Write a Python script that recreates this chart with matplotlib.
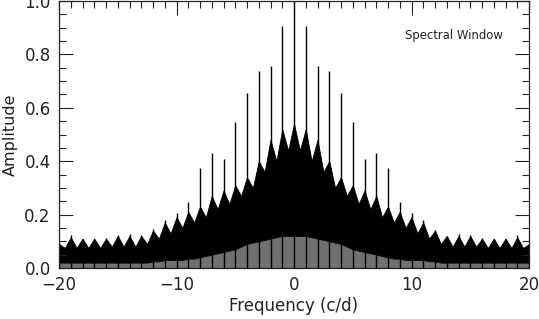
import matplotlib
matplotlib.use("Agg")
import matplotlib.pyplot as plt
from matplotlib.ticker import MultipleLocator

# ---- data ----
# main alias peaks of the spectral window (frequency in c/d, amplitude)
peak_freq = [-20, -19, -18, -17, -16, -15, -14, -13, -12, -11, -10, -9, -8, -7, -6, -5, -4, -3, -2, -1,
             0, 1, 2, 3, 4, 5, 6, 7, 8, 9, 10, 11, 12, 13, 14, 15, 16, 17, 18, 19, 20]
peak_amp = [0.09, 0.123, 0.11, 0.11, 0.112, 0.122, 0.127, 0.122, 0.146, 0.18, 0.206, 0.248, 0.373, 0.432,
            0.41, 0.545, 0.655, 0.737, 0.757, 0.905,
            1.0, 0.905, 0.757, 0.737, 0.655, 0.545, 0.41, 0.432, 0.373, 0.248, 0.206, 0.178, 0.143, 0.12,
            0.127, 0.124, 0.112, 0.11, 0.11, 0.123, 0.09]

# envelope of the dense side-lobe band, sampled every 0.5 c/d from -20 to 20
band_freq = [-20.0, -19.5, -19.0, -18.5, -18.0, -17.5, -17.0, -16.5, -16.0, -15.5, -15.0, -14.5, -14.0,
             -13.5, -13.0, -12.5, -12.0, -11.5, -11.0, -10.5, -10.0, -9.5, -9.0, -8.5, -8.0, -7.5, -7.0,
             -6.5, -6.0, -5.5, -5.0, -4.5, -4.0, -3.5, -3.0, -2.5, -2.0, -1.5, -1.0, -0.5,
             0.0, 0.5, 1.0, 1.5, 2.0, 2.5, 3.0, 3.5, 4.0, 4.5, 5.0, 5.5, 6.0, 6.5, 7.0, 7.5, 8.0, 8.5,
             9.0, 9.5, 10.0, 10.5, 11.0, 11.5, 12.0, 12.5, 13.0, 13.5, 14.0, 14.5, 15.0, 15.5, 16.0, 16.5,
             17.0, 17.5, 18.0, 18.5, 19.0, 19.5, 20.0]
band_top = [0.09, 0.075, 0.115, 0.075, 0.11, 0.075, 0.11, 0.075, 0.11, 0.08, 0.12, 0.08, 0.12,
            0.08, 0.12, 0.09, 0.14, 0.11, 0.17, 0.13, 0.19, 0.15, 0.21, 0.17, 0.23, 0.19, 0.27,
            0.22, 0.29, 0.24, 0.31, 0.27, 0.34, 0.30, 0.40, 0.36, 0.48, 0.40, 0.52, 0.44,
            0.54, 0.44, 0.52, 0.40, 0.48, 0.36, 0.40, 0.30, 0.34, 0.27, 0.31, 0.24, 0.29, 0.22, 0.27,
            0.19, 0.23, 0.17, 0.21, 0.15, 0.19, 0.13, 0.17, 0.11, 0.14, 0.09, 0.12, 0.08, 0.12, 0.08,
            0.12, 0.08, 0.11, 0.075, 0.11, 0.075, 0.11, 0.075, 0.115, 0.075, 0.09]
band_low = [0.02, 0.02, 0.02, 0.02, 0.02, 0.02, 0.02, 0.02, 0.02, 0.02, 0.02, 0.02, 0.02,
            0.02, 0.02, 0.02, 0.025, 0.025, 0.03, 0.03, 0.03, 0.03, 0.035, 0.035, 0.04, 0.045, 0.05,
            0.055, 0.06, 0.065, 0.07, 0.08, 0.09, 0.095, 0.10, 0.105, 0.11, 0.115, 0.12, 0.12,
            0.12, 0.12, 0.12, 0.115, 0.11, 0.105, 0.10, 0.095, 0.09, 0.08, 0.07, 0.065, 0.06, 0.055, 0.05,
            0.045, 0.04, 0.035, 0.035, 0.03, 0.03, 0.03, 0.03, 0.025, 0.025, 0.02, 0.02, 0.02, 0.02, 0.02,
            0.02, 0.02, 0.02, 0.02, 0.02, 0.02, 0.02, 0.02, 0.02, 0.02, 0.02]

x_ticks = [-20, -10, 0, 10, 20]
y_ticks = [0.0, 0.2, 0.4, 0.6, 0.8, 1.0]

# ---- figure ----
fig = plt.figure(figsize=(5.39, 3.19), dpi=100)
ax = fig.add_axes([59 / 539, 1 - 268 / 319, 470 / 539, 267 / 319])

ax.fill_between(band_freq, 0, band_low, color="#707070", lw=0)
ax.fill_between(band_freq, band_low, band_top, color="black", lw=0.6, edgecolor="black")
ax.vlines(peak_freq, 0, peak_amp, color="black", lw=1.0)

ax.set_xlim(-20, 20)
ax.set_ylim(0, 1.0)
ax.set_xticks(x_ticks)
ax.set_xticklabels(["\u221220", "\u221210", "0", "10", "20"])
ax.set_yticks(y_ticks)
ax.set_yticklabels(["0.0", "0.2", "0.4", "0.6", "0.8", "1.0"])
ax.xaxis.set_minor_locator(MultipleLocator(1))
ax.yaxis.set_minor_locator(MultipleLocator(0.05))
ax.tick_params(which="both", direction="in", top=True, right=True, width=0.8, colors="#222222")
ax.tick_params(which="major", length=10, labelsize=12, pad=6)
ax.tick_params(which="minor", length=5)
for s in ax.spines.values():
    s.set_linewidth(0.9)
    s.set_color("#222222")

ax.set_xlabel("Frequency (c/d)", fontsize=12, color="#222222")
ax.set_ylabel("Amplitude", fontsize=11.5, color="#222222")
ax.xaxis.set_label_coords(0.5, -0.108)
ax.yaxis.set_label_coords(-0.087, 0.5)
ax.text(9.45, 0.87, "Spectral Window", fontsize=8.4, color="#222222", va="center", ha="left")

fig.savefig("out.png", dpi=100)
